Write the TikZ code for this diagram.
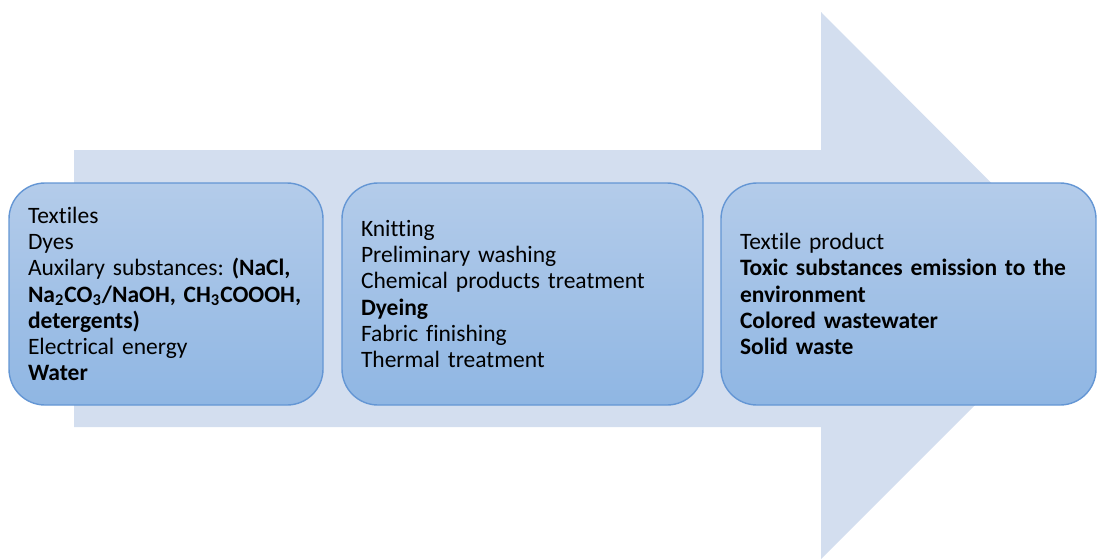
\documentclass[tikz,border=0pt]{standalone}
\usepackage{fontspec}
\setmainfont{Carlito}[Ligatures={NoCommon}]
\usepackage{tikz}
\definecolor{arrowbg}{RGB}{211,222,239}
\definecolor{boxtop}{RGB}{180,204,234}
\definecolor{boxbot}{RGB}{143,182,227}
\definecolor{boxline}{RGB}{100,150,212}
\tikzset{
	stage/.style={draw=boxline, line width=0.7pt, rounded corners=18pt, top color=boxtop, bottom color=boxbot,
		minimum height=111pt, inner xsep=9.5pt, inner ysep=0pt, align=left,
		font=\fontsize{11.75pt}{13.15pt}\selectfont}
}
\frenchspacing

\begin{document}
\begin{tikzpicture}[x=0.5pt, y=-0.5pt]
	\useasboundingbox (0,0) rectangle (1097,559);
	\fill[arrowbg] (74,150) -- (821,150) -- (821,12) -- (1094,286) -- (821,559) -- (821,427) -- (74,427) -- cycle;
	\node[stage, text width=138pt] (inputs) at (166,294) {Textiles\\ Dyes\\ Auxilary substances: \textbf{(NaCl,}\\ \textbf{Na\textsubscript{2}CO\textsubscript{3}/NaOH, CH\textsubscript{3}COOOH,}\\ \textbf{detergents)}\\ Electrical energy\\ \textbf{Water}};
	\node[stage, text width=161.5pt] (process) at (522.5,294) {Knitting\\ Preliminary washing\\ Chemical products treatment\\ \textbf{Dyeing}\\ Fabric finishing\\ Thermal treatment};
	\node[stage, text width=168.5pt] (outputs) at (908.5,294) {Textile product\\ \textbf{Toxic substances emission to the}\\ \textbf{environment}\\ \textbf{Colored wastewater}\\ \textbf{Solid waste}};
\end{tikzpicture}
\end{document}
